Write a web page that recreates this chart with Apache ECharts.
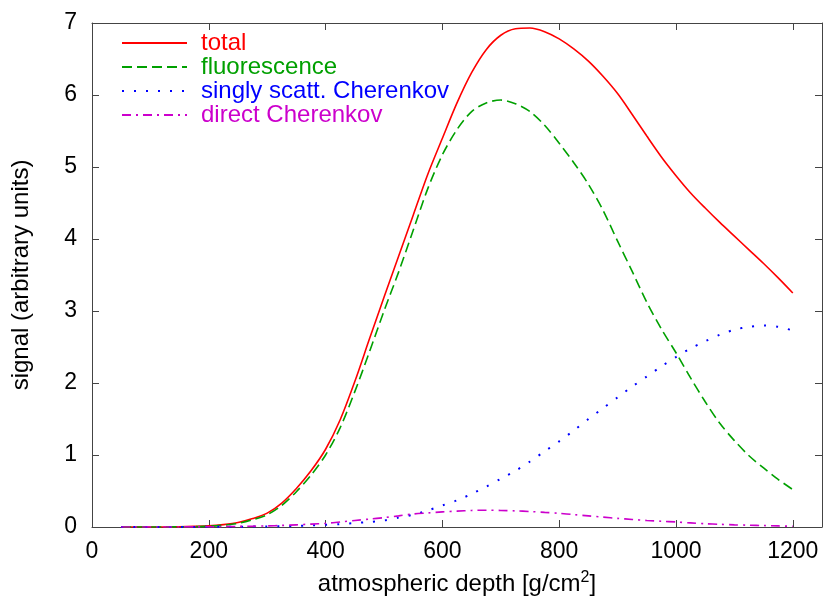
<!DOCTYPE html>
<html>
<head>
<meta charset="utf-8">
<script src="https://cdn.jsdelivr.net/npm/echarts@6/dist/echarts.min.js"></script>
<style>
  html, body { margin: 0; padding: 0; background: #fff; }
  #chart { width: 824px; height: 601px; }
</style>
</head>
<body>
<div id="chart"></div>
<script>
// atmospheric depth [g/cm^2]
const depth = [50, 75, 100, 125, 150, 175, 200, 225, 250, 275, 300, 325,
               350, 375, 400, 425, 450, 475, 500, 525, 550, 575, 600, 625,
               650, 675, 700, 725, 750, 775, 800, 825, 850, 875, 900, 925,
               950, 975, 1000, 1025, 1050, 1075, 1100, 1125, 1150, 1175, 1200];

// signal components (arbitrary units)
const total = [0, 0, 0, 0.001, 0.003, 0.008, 0.015, 0.033, 0.062, 0.117, 0.193, 0.333,
               0.535, 0.78, 1.08, 1.49, 2.02, 2.61, 3.19, 3.76, 4.33, 4.9, 5.4, 5.89,
               6.31, 6.63, 6.83, 6.92, 6.93, 6.88, 6.78, 6.64, 6.47, 6.26, 6.02, 5.73,
               5.43, 5.14, 4.88, 4.64, 4.43, 4.23, 4.04, 3.85, 3.66, 3.46, 3.25];
const fluorescence = [0, 0, 0, 0.001, 0.002, 0.005, 0.01, 0.025, 0.05, 0.1, 0.17, 0.3,
                      0.49, 0.72, 1.0, 1.38, 1.88, 2.43, 3.0, 3.54, 4.12, 4.7, 5.17, 5.52,
                      5.77, 5.89, 5.93, 5.88, 5.77, 5.58, 5.33, 5.06, 4.76, 4.4, 3.97, 3.55,
                      3.12, 2.75, 2.42, 2.07, 1.74, 1.44, 1.2, 0.99, 0.82, 0.66, 0.52];
const scatteredCherenkov = [0, 0, 0, 0, 0, 0.001, 0.002, 0.003, 0.004, 0.006, 0.008, 0.011,
                            0.015, 0.022, 0.03, 0.04, 0.055, 0.07, 0.09, 0.13, 0.17, 0.23, 0.3, 0.37,
                            0.46, 0.56, 0.67, 0.78, 0.91, 1.05, 1.19, 1.34, 1.5, 1.65, 1.8, 1.95,
                            2.09, 2.23, 2.36, 2.48, 2.58, 2.67, 2.74, 2.78, 2.8, 2.78, 2.73];
const directCherenkov = [0, 0, 0, 0, 0.001, 0.002, 0.003, 0.005, 0.008, 0.011, 0.015, 0.022,
                         0.03, 0.04, 0.05, 0.07, 0.09, 0.11, 0.13, 0.155, 0.18, 0.195, 0.21, 0.22,
                         0.23, 0.233, 0.23, 0.224, 0.215, 0.203, 0.19, 0.172, 0.155, 0.137, 0.12, 0.105,
                         0.09, 0.08, 0.07, 0.057, 0.045, 0.037, 0.03, 0.025, 0.02, 0.015, 0.01];

const xTicks = { min: 0, max: 1250, interval: 200 };
const yTicks = { min: 0, max: 7, interval: 1 };

const FONT = 'Liberation Sans, Arial, Helvetica, sans-serif';
const TICK_FS = 23;
const TEXT_FS = 24;

const pairs = (ys) => depth.map((x, i) => [x, ys[i]]);

const curves = [
  { name: 'total', data: total, color: '#ff0000', type: 'solid', width: 1.6 },
  { name: 'fluorescence', data: fluorescence, color: '#00a000', type: [10, 5], width: 1.6 },
  { name: 'singly scatt. Cherenkov', data: scatteredCherenkov, color: '#0000ff', type: [2, 10], width: 2 },
  { name: 'direct Cherenkov', data: directCherenkov, color: '#cc00cc', type: [9, 5, 2, 5], width: 1.6 }
];

const frameLine = { show: true, onZero: false, lineStyle: { color: '#444', width: 1 } };
const innerTick = { show: true, inside: true, length: 7, lineStyle: { color: '#444', width: 1 } };
const plain = (v) => String(v);

const chart = echarts.init(document.getElementById('chart'), null, { renderer: 'canvas' });

chart.setOption({
  backgroundColor: '#fff',
  animation: false,
  grid: {
    left: 92, right: 2, top: 23, bottom: 74,
    containLabel: false,
    outerBoundsMode: 'none'
  },
  legend: {
    orient: 'vertical',
    left: 121,
    top: 31,
    padding: 0,
    itemWidth: 65,
    itemHeight: 14,
    itemGap: 0,
    itemStyle: { opacity: 0 },
    textStyle: { fontFamily: FONT, fontSize: TEXT_FS, padding: [0, 0, 0, 9] },
    data: curves.map(c => ({ name: c.name, textStyle: { color: c.color } }))
  },
  xAxis: [
    {
      type: 'value',
      position: 'bottom',
      min: xTicks.min, max: xTicks.max, interval: xTicks.interval,
      name: '{a|atmospheric depth [g/cm}{s|2}{a|]}',
      nameLocation: 'middle',
      nameGap: 43,
      nameTextStyle: {
        rich: {
          a: { fontFamily: FONT, fontSize: TEXT_FS, color: '#000' },
          s: { fontFamily: FONT, fontSize: 16, color: '#000', verticalAlign: 'top', padding: [0, 0, 12, 0] }
        }
      },
      axisLine: frameLine,
      axisTick: innerTick,
      splitLine: { show: false },
      axisLabel: { fontFamily: FONT, fontSize: TICK_FS, color: '#000', margin: 13, showMaxLabel: false, formatter: plain }
    },
    {
      type: 'value',
      position: 'top',
      min: xTicks.min, max: xTicks.max, interval: xTicks.interval,
      axisLine: frameLine,
      axisTick: innerTick,
      splitLine: { show: false },
      axisLabel: { show: false }
    }
  ],
  yAxis: [
    {
      type: 'value',
      position: 'left',
      min: yTicks.min, max: yTicks.max, interval: yTicks.interval,
      name: 'signal (arbitrary units)',
      nameLocation: 'middle',
      nameGap: 59,
      nameTextStyle: { fontFamily: FONT, fontSize: TEXT_FS, color: '#000' },
      axisLine: frameLine,
      axisTick: innerTick,
      splitLine: { show: false },
      axisLabel: { fontFamily: FONT, fontSize: TICK_FS, color: '#000', margin: 15, formatter: plain }
    },
    {
      type: 'value',
      position: 'right',
      min: yTicks.min, max: yTicks.max, interval: yTicks.interval,
      axisLine: frameLine,
      axisTick: innerTick,
      splitLine: { show: false },
      axisLabel: { show: false }
    }
  ],
  series: curves.map(c => ({
    name: c.name,
    type: 'line',
    xAxisIndex: 0,
    yAxisIndex: 0,
    data: pairs(c.data),
    smooth: 0.3,
    showSymbol: false,
    symbol: 'none',
    clip: true,
    lineStyle: { color: c.color, width: c.width, type: c.type },
    itemStyle: { color: c.color }
  }))
});
</script>
</body>
</html>
